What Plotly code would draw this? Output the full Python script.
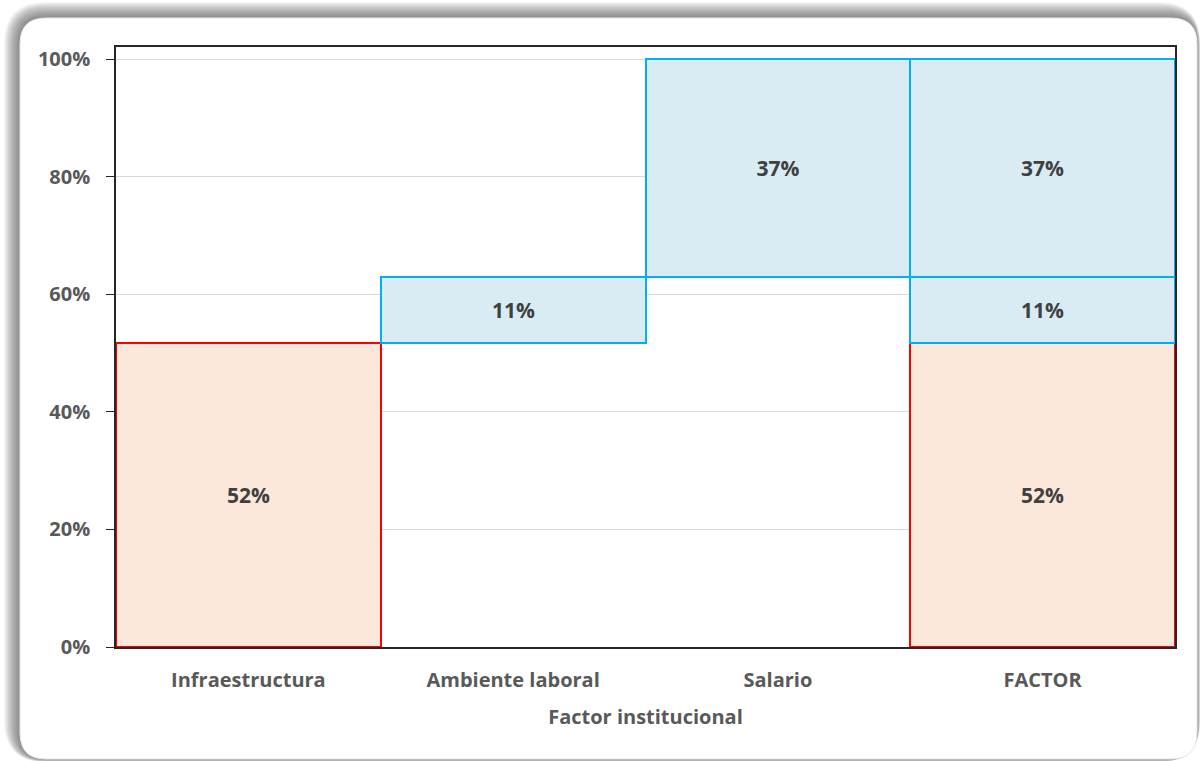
import numpy as np
import plotly.graph_objects as go

# Data
categories = ["Infraestructura", "Ambiente laboral", "Salario", "FACTOR"]
factor_names = ["Infraestructura", "Ambiente laboral", "Salario"]
factor_shares = [0.517, 0.112, 0.371]
y_ticks = [0, 0.2, 0.4, 0.6, 0.8, 1.0]
y_tick_labels = ["0%", "20%", "40%", "60%", "80%", "100%"]

bases = np.concatenate([[0], np.cumsum(factor_shares)[:-1]])

# Styles per factor
fills = ["#FBE8DA", "#DAECF3", "#DAECF3"]
edges = ["#FF0000", "#00B0F0", "#00B0F0"]

FONT = "Open Sans"

# Layout geometry (pixels)
W, H = 1200, 761
ML, MR, MT, MB = 116, 25, 47, 114
PW, PH = W - ML - MR, H - MT - MB


def px_x(px):
    return (px - ML) / PW


def px_y(py):
    return (H - MB - py) / PH


def rounded_rect(x0, y0, x1, y1, r):
    """SVG path of a rounded rectangle given in pixel coords, returned in paper coords."""
    pts = [
        ("M", [(x0 + r, y0)]),
        ("L", [(x1 - r, y0)]),
        ("Q", [(x1, y0), (x1, y0 + r)]),
        ("L", [(x1, y1 - r)]),
        ("Q", [(x1, y1), (x1 - r, y1)]),
        ("L", [(x0 + r, y1)]),
        ("Q", [(x0, y1), (x0, y1 - r)]),
        ("L", [(x0, y0 + r)]),
        ("Q", [(x0, y0), (x0 + r, y0)]),
    ]
    parts = []
    for cmd, coords in pts:
        parts.append(cmd + " ".join(f"{px_x(a):.5f},{px_y(b):.5f}" for a, b in coords))
    return " ".join(parts) + " Z"


fig = go.Figure()

for i, name in enumerate(factor_names):
    fig.add_trace(go.Bar(
        x=[name, "FACTOR"],
        y=[factor_shares[i]] * 2,
        base=[bases[i]] * 2,
        marker=dict(color=fills[i], line=dict(color=edges[i], width=2)),
        texttemplate="%{y:.0%}",
        textposition="inside",
        insidetextanchor="middle",
        textangle=0,
        textfont=dict(family=FONT, size=21, color="#404040", weight="bold"),
        showlegend=False,
        hoverinfo="skip",
    ))

# Card with a soft shadow falling up and to the left
CARD = (20, 18, 1197, 759)
shapes = []
for d in range(16, 0, -1):
    shapes.append(dict(
        type="path", xref="paper", yref="paper", layer="below",
        path=rounded_rect(CARD[0] - d, CARD[1] - d, CARD[2] + d * 0.2, CARD[3] + d * 0.2, 26 + d),
        fillcolor="rgba(80,80,80,0.055)", line=dict(width=0),
    ))
shapes.append(dict(
    type="path", xref="paper", yref="paper", layer="below",
    path=rounded_rect(*CARD, 26),
    fillcolor="#FFFFFF", line=dict(color="#E8E8E8", width=1),
))

fig.update_layout(
    width=W, height=H,
    margin=dict(l=ML, r=MR, t=MT, b=MB),
    paper_bgcolor="#FFFFFF",
    plot_bgcolor="rgba(0,0,0,0)",
    barmode="overlay",
    bargap=0,
    shapes=shapes,
    font=dict(family=FONT, color="#595959"),
    xaxis=dict(
        categoryorder="array", categoryarray=categories,
        showline=True, linecolor="#262626", linewidth=1.5, mirror=True,
        ticks="", ticklabelstandoff=14,
        tickfont=dict(family=FONT, size=20, color="#595959", weight="bold"),
        title=dict(text="Factor institucional", standoff=18,
                   font=dict(family=FONT, size=20, color="#595959", weight="bold")),
    ),
    yaxis=dict(
        range=[0, 1.0204],
        tickvals=y_ticks, ticktext=y_tick_labels,
        showgrid=True, gridcolor="#D9D9D9", gridwidth=1,
        showline=True, linecolor="#262626", linewidth=1.5, mirror=True,
        ticks="outside", ticklen=8, tickcolor="#262626",
        ticklabelstandoff=12,
        tickfont=dict(family=FONT, size=20, color="#595959", weight="bold"),
        zeroline=False,
    ),
)

fig.write_html("out.html")
